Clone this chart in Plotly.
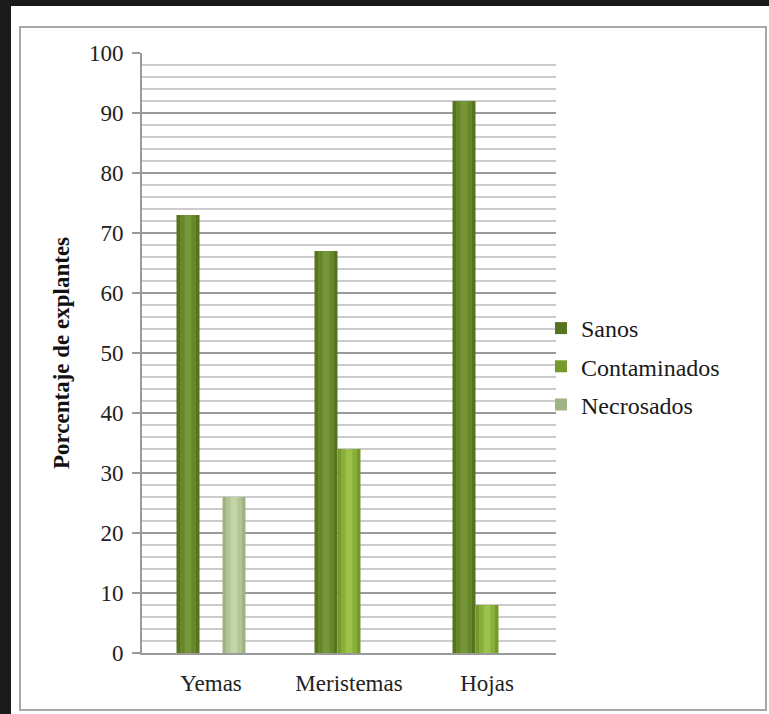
import plotly.graph_objects as go

# Explant outcome by explant type (% of explants)
categorias = ["Yemas", "Meristemas", "Hojas"]
sanos = [73, 67, 92]
contaminados = [0, 34, 8]
necrosados = [26, 0, 0]

# name, values, edge shade, body shade, centre highlight
series = [
    ("Sanos", sanos, "#56731f", "#678729", "#76963a"),
    ("Contaminados", contaminados, "#76992c", "#8aae3a", "#9cc24c"),
    ("Necrosados", necrosados, "#9fb383", "#b2c695", "#c3d5a8"),
]

W, H = 769, 714
L, R, T, B = 142, 213, 53, 61
PW, PH = W - L - R, H - T - B
SLOT = 0.5 / 3  # width of one bar in category units


def px_x(x):
    return (x - L) / PW


def px_y(y):
    return (H - B - y) / PH


serif = "Times New Roman"

fig = go.Figure()
for name, vals, edge, body, centre in series:
    # cylinder-like shading: full bar, then narrower lighter bars on top
    fig.add_trace(go.Bar(
        x=categorias, y=vals, name=name, offsetgroup=name,
        marker=dict(color=edge, line=dict(width=0)), legendgroup=name,
    ))
    fig.add_trace(go.Bar(
        x=categorias, y=vals, name=name, offsetgroup=name, width=SLOT * 0.7,
        marker=dict(color=body, line=dict(width=0)), legendgroup=name,
        showlegend=False, hoverinfo="skip",
    ))
    fig.add_trace(go.Bar(
        x=categorias, y=vals, name=name, offsetgroup=name, width=SLOT * 0.3,
        marker=dict(color=centre, line=dict(width=0)), legendgroup=name,
        showlegend=False, hoverinfo="skip",
    ))

fig.update_layout(
    width=W, height=H,
    margin=dict(l=L, r=R, t=T, b=B),
    paper_bgcolor="#1a1a1a",
    plot_bgcolor="white",
    barmode="group", bargap=0.5, bargroupgap=0,
    font=dict(family=serif, size=23, color="#222222"),
    showlegend=True,
    legend=dict(
        x=px_x(541), y=px_y(306), xanchor="left", yanchor="top",
        bgcolor="rgba(0,0,0,0)", font=dict(family=serif, size=24, color="#1a1a1a"),
        tracegroupgap=4, itemwidth=30,
    ),
    shapes=[
        # white chart sheet over the dark page
        dict(type="rect", xref="paper", yref="paper", layer="below",
             x0=px_x(11), x1=px_x(780), y0=px_y(6), y1=px_y(730),
             fillcolor="white", line=dict(width=0)),
        # chart frame
        dict(type="rect", xref="paper", yref="paper", layer="below",
             x0=px_x(20), x1=px_x(766), y0=px_y(27), y1=px_y(710),
             fillcolor="rgba(0,0,0,0)", line=dict(color="#a8a8a8", width=2)),
    ],
)

fig.update_yaxes(
    range=[0, 100], dtick=10, tick0=0,
    showline=True, linecolor="#9a9a9a", linewidth=2,
    ticks="outside", ticklen=8, tickcolor="#9a9a9a", tickwidth=2,
    showgrid=True, gridcolor="#9a9a9a", gridwidth=2,
    minor=dict(dtick=2, showgrid=True, gridcolor="#cccccc", gridwidth=2, ticks=""),
    zeroline=False,
    tickfont=dict(family=serif, size=23, color="#222222"),
    ticklabelstandoff=4,
    title=dict(text="<b>Porcentaje de explantes</b>",
               font=dict(family=serif, size=23, color="#111111"), standoff=13),
)
fig.update_xaxes(
    showline=True, linecolor="#9a9a9a", linewidth=2,
    ticks="", showgrid=False, ticklabelstandoff=8,
    tickfont=dict(family=serif, size=23, color="#222222"),
)

fig.write_html("out.html")
